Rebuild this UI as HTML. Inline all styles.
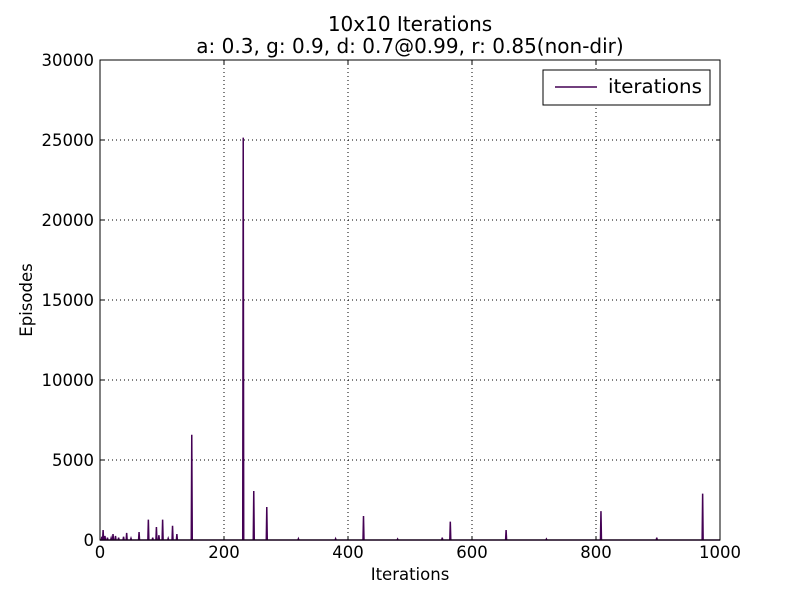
<!DOCTYPE html>
<html><head><meta charset="utf-8"><style>
body{margin:0;background:#fff;}
svg text{font-family:"DejaVu Sans","Liberation Sans",sans-serif;fill:#000;}
</style></head><body>
<svg id="chart" width="800" height="600">
<rect width="800" height="600" fill="#fff"/>
<g id="grid"></g>
<g id="series"></g>
<rect x="100" y="60" width="620" height="480" fill="none" stroke="#000" stroke-width="1"/>
<g id="ticks"></g>
<text x="410" y="31" text-anchor="middle" font-size="20">10x10 Iterations</text>
<text x="410" y="53" text-anchor="middle" font-size="20">a: 0.3, g: 0.9, d: 0.7@0.99, r: 0.85(non-dir)</text>
<text x="410" y="580" text-anchor="middle" font-size="16.5">Iterations</text>
<text x="32" y="300" text-anchor="middle" font-size="16.5" transform="rotate(-90 32 300)">Episodes</text>
<g>
<rect x="543" y="70" width="167" height="35" fill="#fff" stroke="#000"/>
<line x1="555" y1="87" x2="597" y2="87" stroke="#440154" stroke-width="1.5"/>
<text x="608" y="93" font-size="19.8">iterations</text>
</g>
</svg>
<script>
const xTicks=[0,200,400,600,800,1000];
const yTicks=[0,5000,10000,15000,20000,25000,30000];
const spikeIters=[3,5,8,12,18,21,25,30,38,43,50,63,78,85,91,95,101,110,117,124,148,231,248,269,320,380,425,480,552,565,655,720,808,898,972];
const spikeEpisodes=[200,625,250,150,120,375,250,150,200,440,100,500,1270,150,810,300,1270,100,890,375,6580,25150,3060,2060,80,80,1500,60,150,1150,620,60,1800,150,2900];
const X=v=>100+v*620/1000, Y=v=>540-v*480/30000;
const ns='http://www.w3.org/2000/svg';
const grid=document.getElementById('grid'),ticks=document.getElementById('ticks'),ser=document.getElementById('series');
function mk(tag,attrs,parent){const e=document.createElementNS(ns,tag);for(const k in attrs)e.setAttribute(k,attrs[k]);parent.appendChild(e);return e;}
xTicks.forEach(t=>{const x=X(t);
 if(t>0&&t<1000){const g=mk('line',{x1:x,y1:60,x2:x,y2:540,stroke:'#000','stroke-dasharray':'1,3'},grid);
 
 }
 mk('line',{x1:x,y1:540,x2:x,y2:536,stroke:'#000'},ticks);mk('line',{x1:x,y1:60,x2:x,y2:64,stroke:'#000'},ticks);
 const tx=mk('text',{x:x,y:558,'text-anchor':'middle','font-size':16.5},ticks);tx.textContent=t;
 
 });
yTicks.forEach(t=>{const y=Y(t);
 if(t>0&&t<30000){const g=mk('line',{x1:100,y1:y,x2:720,y2:y,stroke:'#000','stroke-dasharray':'1,3'},grid);
 
 }
 mk('line',{x1:100,y1:y,x2:104,y2:y,stroke:'#000'},ticks);mk('line',{x1:720,y1:y,x2:716,y2:y,stroke:'#000'},ticks);
 const tx=mk('text',{x:94,y:y+6,'text-anchor':'end','font-size':16.5},ticks);tx.textContent=t;
 
 });
let d='M'+X(0)+','+Y(0);
spikeIters.forEach((it,i)=>{d+=' L'+X(it-0.8)+','+Y(0)+' L'+X(it)+','+Y(spikeEpisodes[i])+' L'+X(it+0.8)+','+Y(0);});
d+=' L'+X(1000)+','+Y(0);
const p=mk('path',{d:d,fill:'none',stroke:'#440154','stroke-width':1.5,'stroke-linejoin':'miter'},ser);


</script>
</body></html>
